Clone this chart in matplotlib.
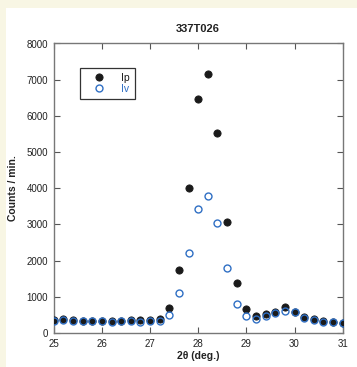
import matplotlib
matplotlib.use('Agg')
from matplotlib import pyplot as plt
from matplotlib.patches import Rectangle

# 2theta scan, 0.2 deg steps.
two_theta = [25.0, 25.2, 25.4, 25.6, 25.8, 26.0, 26.2, 26.4, 26.6, 26.8,
             27.0, 27.2, 27.4, 27.6, 27.8, 28.0, 28.2, 28.4, 28.6, 28.8,
             29.0, 29.2, 29.4, 29.6, 29.8, 30.0, 30.2, 30.4, 30.6, 30.8, 31.0]
ip = [350, 380, 370, 340, 330, 340, 320, 340, 350, 360,
      370, 380, 680, 1730, 4000, 6465, 7155, 5530, 3060, 1390,
      660, 480, 520, 580, 715, 580, 450, 380, 320, 310, 290]
iv = [340, 350, 330, 330, 320, 320, 310, 320, 320, 300,
      340, 330, 490, 1100, 2210, 3425, 3785, 3030, 1785, 795,
      465, 380, 460, 560, 615, 570, 420, 360, 300, 300, 270]

plt.rcParams['font.family'] = ['Liberation Sans', 'DejaVu Sans']
text_color = '#222222'
blue = '#2f6fc4'

fig = plt.figure(figsize=(3.5705, 3.6705), dpi=100, facecolor='white')
# cream strips along the top and left edges
fig.patches.append(Rectangle((0, 0), 6 / 357, 1, transform=fig.transFigure,
                             facecolor='#f8f6e4', edgecolor='none', zorder=0))
fig.patches.append(Rectangle((0, 1 - 8 / 367), 1, 8 / 367, transform=fig.transFigure,
                             facecolor='#f8f6e4', edgecolor='none', zorder=0))

ax = fig.add_axes([0.1504, 0.0926, 0.8095, 0.7888])
ax.plot(two_theta, ip, 'o', ms=5.2, mfc='#1a1a1a', mec='#1a1a1a', mew=0.6,
        label='Ip', zorder=3)
ax.plot(two_theta, iv, 'o', ms=5.0, mfc='none', mec=blue, mew=1.0,
        label='Iv', zorder=4)

ax.set_xlim(25, 31)
ax.set_ylim(0, 8000)
ax.set_xticks(range(25, 32))
ax.set_yticks(range(0, 8001, 1000))
ax.tick_params(direction='in', top=True, right=True, length=4, width=0.8,
               color='#555555', labelsize=7, labelcolor=text_color, pad=4)
for spine in ax.spines.values():
    spine.set_color('#777777')
    spine.set_linewidth(1.0)

ax.set_title('337T026', fontsize=8, fontweight='bold', color=text_color, pad=8)
ax.set_xlabel('2θ (deg.)', fontsize=7.5, fontweight='bold', color=text_color, labelpad=2)
ax.set_ylabel('Counts / min.', fontsize=7.5, fontweight='bold', color=text_color, labelpad=6)

leg = ax.legend(loc='upper left', bbox_to_anchor=(0.074, 0.934), fontsize=7.5,
                frameon=True, fancybox=False, edgecolor='black', borderpad=0.5,
                handletextpad=0.9, labelspacing=0.1, handlelength=2.5,
                labelcolor=['#1a1a1a', blue])
leg.get_frame().set_linewidth(0.9)

fig.savefig('out.png', dpi=100, facecolor=fig.get_facecolor())
